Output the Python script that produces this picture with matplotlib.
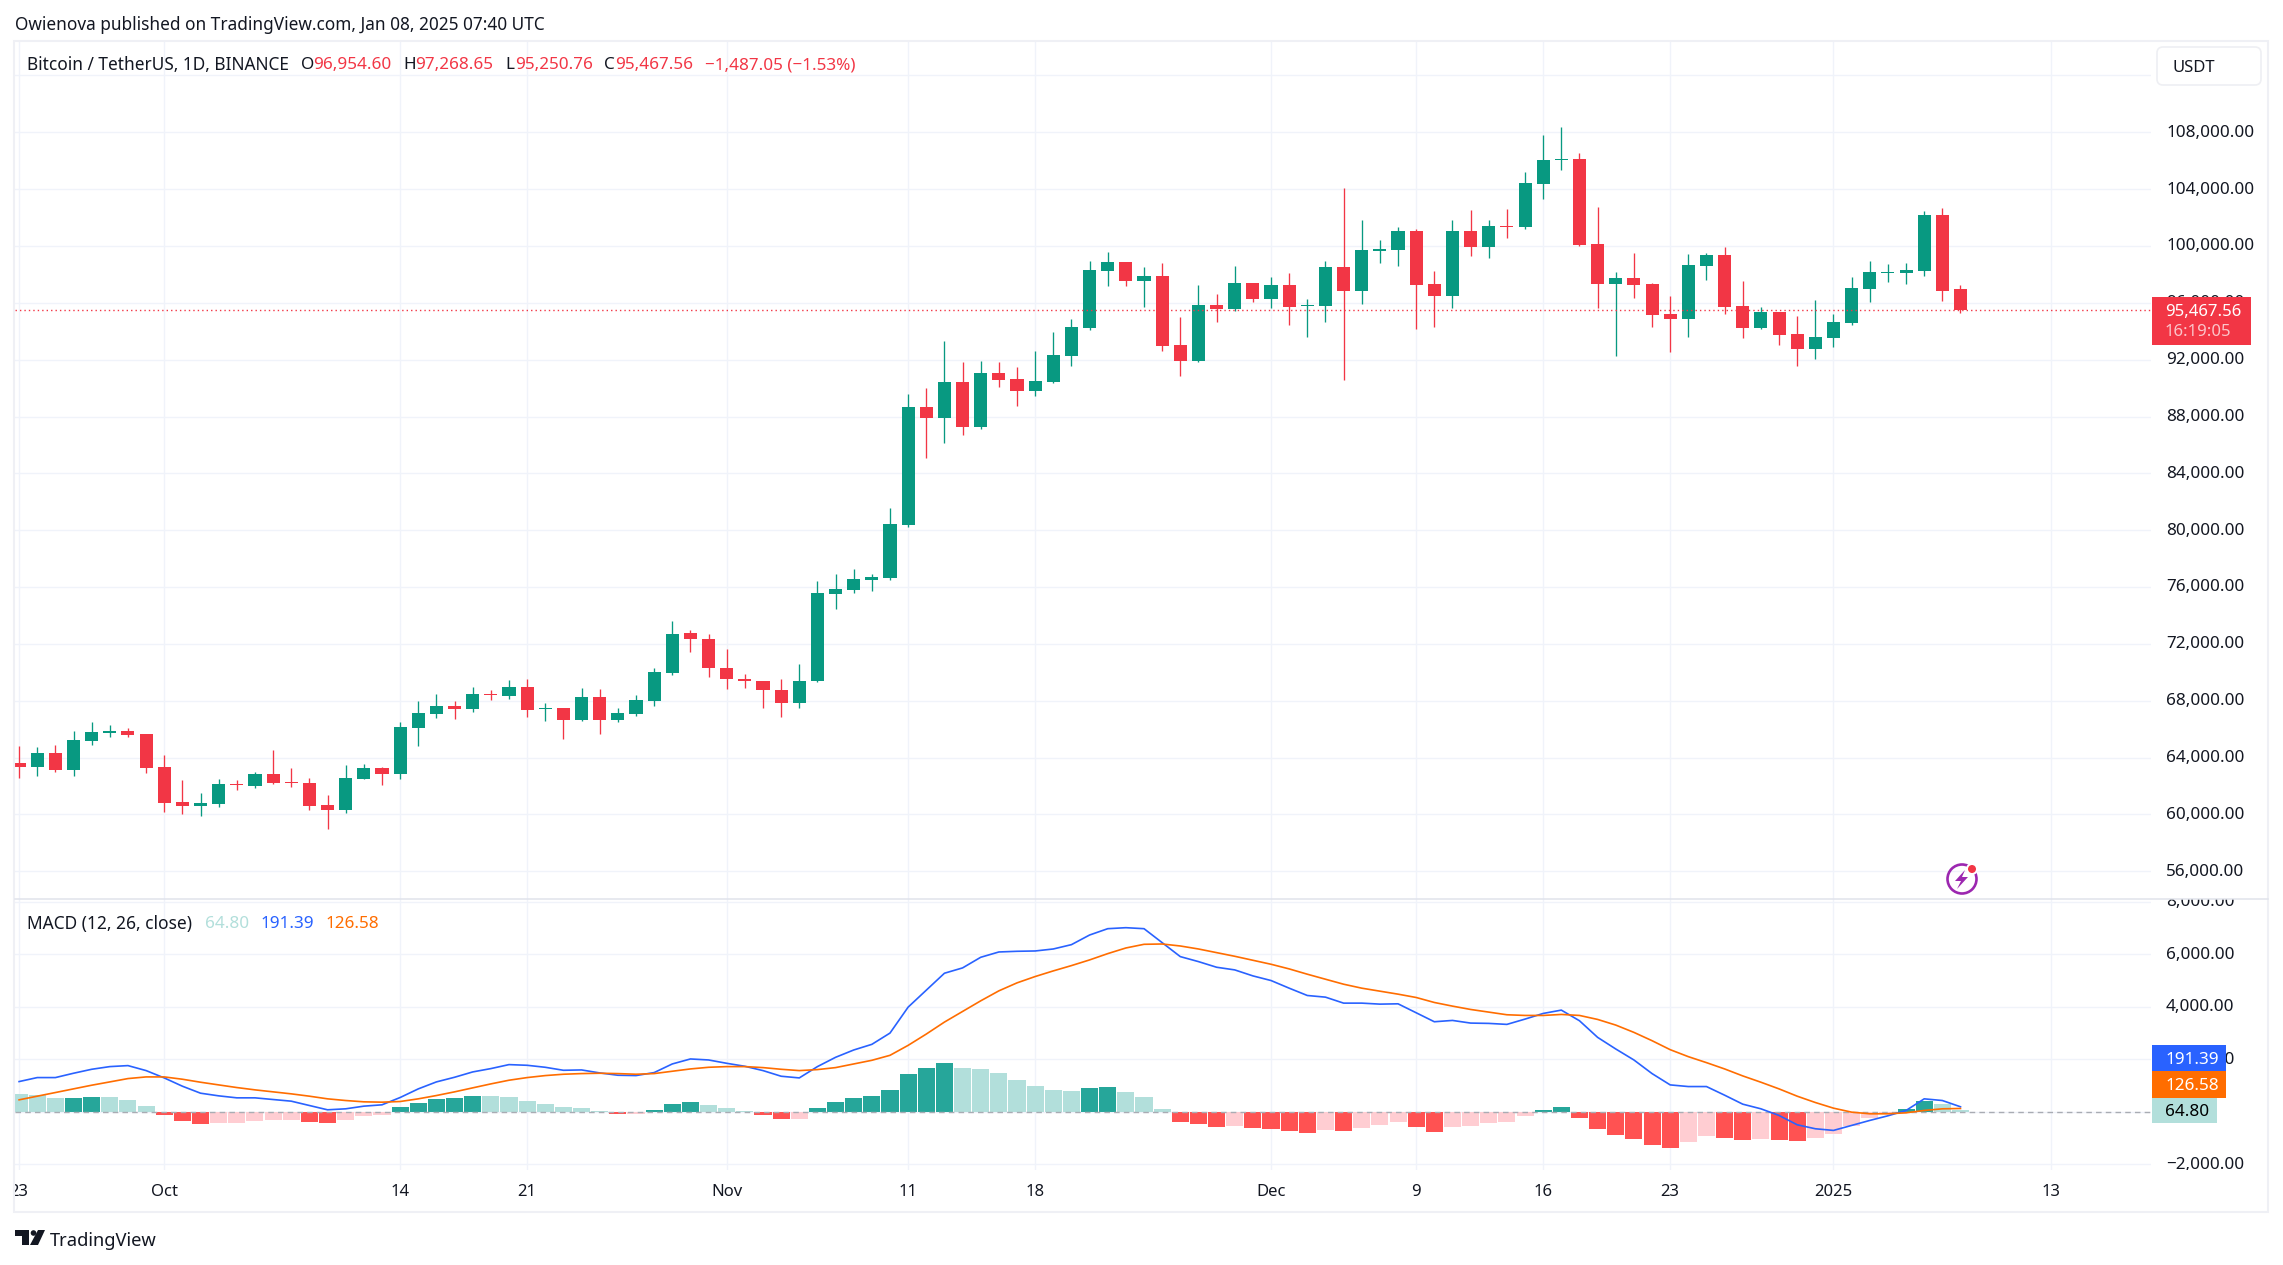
import numpy as np
import matplotlib
matplotlib.use("Agg")
import matplotlib.pyplot as plt
from matplotlib.patches import Rectangle, FancyBboxPatch, Polygon, Circle
from matplotlib.transforms import Bbox, TransformedBbox, ScaledTranslation

opens = [63600,63320,64300,63110,65150,65710,65850,65640,63320,60870,60590,60720,62130,61990,62830,62270,62200,60660,60300,62480,
         63250,62830,66060,67040,67600,67390,68440,68300,69000,67390,67460,66620,68230,66620,67040,67950,69920,72740,72340,70290,
         69500,69370,68770,67850,69370,75530,75810,76520,76650,80370,88650,87880,90410,87250,91040,90620,89780,90410,92230,94200,
         98270,98900,97570,97920,93010,91880,95880,95600,97430,96300,97220,95810,95810,98550,96860,99670,99740,101080,97290,96510,
         101080,99950,101430,101360,104370,106060,106130,100160,97360,97780,97290,95180,94830,98620,99390,95810,94200,95320,93780,92730,
         93500,94550,96940,98130,98130,98270,102200,96954.60]
highs = [64800,64720,64860,65850,66480,66270,66060,65640,64160,62410,61500,62480,62410,62970,64520,63250,62550,61360,63460,63530,
         63320,66480,67950,68440,67950,69000,68720,69430,69500,67810,67460,68860,68800,67460,68370,70270,73600,72950,72700,71630,
         69910,69390,69500,70580,76440,76930,77290,76930,81570,89570,89990,93280,91810,91880,91810,91460,92580,93920,94830,98970,
         99600,98900,98550,98830,94970,97220,96590,98620,97430,97850,98130,96300,98970,104090,101850,100440,101360,101220,98270,101850,
         102550,101850,102620,105200,107780,108350,106520,102760,98200,99530,97430,96510,99460,99530,99950,97570,95740,95320,95040,96230,
         95180,97850,98970,98760,98830,102480,102690,97268.65]
lows = [62570,62690,62970,62690,64860,65430,65430,62900,60160,60020,59880,60510,61710,61850,62130,61920,60300,58970,60090,62480,
        62060,62480,64800,66760,66690,67180,68020,68090,66830,66550,65290,66550,65640,66480,66900,67600,69780,71440,69690,68820,
        68880,67480,66830,67480,69300,74420,75600,75740,76520,80230,85070,86130,86690,87110,90060,88720,89430,90340,91530,94060,
        97150,97150,95740,92590,90830,91810,94620,95390,96090,95670,94410,93570,94620,90550,95950,98830,98620,94130,94270,95670,
        99320,99180,100580,101220,103320,105320,100020,95670,92230,96370,94270,92510,93570,97640,95180,93500,94130,93010,91530,92020,
        92870,94410,96090,97500,97290,97920,96160,95250.76]
closes = [63320,64300,63110,65220,65780,65850,65570,63250,60800,60590,60800,62130,62060,62830,62200,62200,60590,60300,62550,63250,
          62830,66130,67110,67600,67390,68440,68370,69000,67320,67460,66620,68230,66620,67110,68020,69990,72700,72340,70290,69500,
          69370,68770,67850,69370,75600,75880,76590,76720,80440,88650,87880,90410,87250,91040,90550,89780,90480,92300,94270,98340,
          98900,97570,97920,92940,91880,95880,95600,97430,96300,97220,95740,95880,98550,96860,99740,99810,101080,97220,96510,101080,
          99950,101430,101360,104440,106060,106130,100090,97360,97780,97220,95110,94830,98690,99390,95740,94200,95320,93710,92730,93570,
          94620,97010,98200,98200,98340,102200,96860,95467.56]

hist = [696,658,540,544,548,546,468,240,-139,-367,-481,-443,-440,-367,-329,-325,-405,-443,-329,-177,
        -139,165,354,506,544,620,590,582,430,316,165,127,13,-101,-98,50,316,392,278,127,
        13,-139,-291,-288,127,392,544,620,848,1456,1684,1874,1650,1646,1494,1228,1000,848,810,924,
        962,772,582,89,-405,-481,-595,-557,-633,-640,-747,-823,-709,-747,-633,-519,-405,-595,-785,-595,
        -557,-443,-405,-177,50,165,-253,-671,-899,-1051,-1279,-1393,-1165,-937,-1013,-1089,-1051,-1089,-1095,-1013,
        -861,-557,-253,-100,89,430,279,64.80]
macd = [1152,1304,1304,1469,1620,1722,1760,1570,1291,975,709,608,532,532,468,405,240,76,114,215,
        266,544,873,1139,1316,1519,1646,1798,1772,1696,1582,1595,1481,1393,1380,1494,1823,2013,1975,1848,
        1734,1570,1355,1291,1722,2076,2355,2570,3000,3988,4634,5279,5482,5887,6089,6115,6127,6203,6368,6735,
        6976,7014,6976,6444,5912,5722,5507,5406,5178,5001,4710,4431,4368,4140,4140,4102,4114,3773,3431,3481,
        3380,3368,3330,3532,3747,3874,3469,2836,2393,1975,1456,1025,962,962,633,291,114,-139,-494,-646,
        -709,-519,-329,-152,51,494,430,191.39]
signal = [456,595,734,874,1013,1139,1266,1329,1329,1241,1127,1025,924,836,760,684,595,494,430,380,
          367,392,494,620,760,912,1063,1203,1304,1380,1431,1456,1469,1456,1431,1456,1545,1633,1696,1722,
          1722,1684,1620,1570,1608,1684,1823,1962,2152,2532,2962,3418,3823,4228,4608,4912,5153,5368,5570,5786,
          6026,6241,6381,6393,6317,6203,6064,5925,5773,5621,5444,5242,5051,4861,4710,4596,4482,4355,4165,4026,
          3899,3798,3697,3671,3671,3709,3671,3519,3304,3026,2709,2367,2101,1873,1633,1367,1127,873,595,354,
          139,-13,-76,-76,-38,51,114,126.58]

# candle index of each date label, Sep 23 is 0
time_ticks = [0, 8, 21, 28, 39, 49, 56, 69, 77, 84, 91, 100, 112]
time_labels = ["23", "Oct", "14", "21", "Nov", "11", "18", "Dec", "9", "16", "23", "2025", "13"]
price_ticks = list(range(56000, 116000, 4000))
macd_ticks = [-2000, 0, 2000, 4000, 6000, 8000]
last_price = 95467.56

GREEN = "#089981"
RED = "#F23645"
GRID = "#f0f3fa"
TXT = "#131722"
FONT = "Noto Sans"

plt.rcParams["font.family"] = [FONT, "DejaVu Sans"]

W, H = 2283, 1265
fig = plt.figure(figsize=(W / 100, H / 100), dpi=100)


def pane(x0, y0, x1, y1):
    return fig.add_axes([x0 / W, 1 - y1 / H, (x1 - x0) / W, (y1 - y0) / H])


ax = pane(15, 42, 2151, 899)
ax2 = pane(15, 899, 2151, 1170)
ax3 = pane(15, 1170, 2151, 1212)

x = np.arange(len(closes))
o, h, l, c = map(np.array, (opens, highs, lows, closes))
up = c >= o
cols = np.where(up, GREEN, RED)

ax.vlines(x, l, h, colors=cols, lw=0.95, zorder=3)
ax.bar(x, np.abs(c - o), bottom=np.minimum(o, c), width=0.72, color=cols, linewidth=0, zorder=4)
ax.axhline(last_price, color=RED, lw=1.0, ls=(0, (1, 2.2)), zorder=5)
ax.set_ylim(54046, 114355)
ax.set_yticks(price_ticks)
ax.set_yticklabels([f"{p:,}.00" if p < 110000 else "" for p in price_ticks])

hh = np.array(hist)
prev = np.r_[hh[0], hh[:-1]]
strong = np.where(hh >= 0, hh > prev, hh < prev)
bar_cols = []
for v, s in zip(hh, strong):
    if v >= 0:
        bar_cols.append("#26a69a" if s else "#b2dfdb")
    else:
        bar_cols.append("#ff5252" if s else "#ffcdd2")

ax2.bar(x, hh, width=0.94, color=bar_cols, linewidth=0, zorder=3)
ax2.axhline(0, color="#a9acb3", lw=1.0, ls=(0, (4, 3)), zorder=4)
ax2.plot(x, macd, color="#2962ff", lw=1.2, zorder=5)
ax2.plot(x, signal, color="#ff6d00", lw=1.2, zorder=6)
ax2.set_ylim(-2217, 8107)
ax2.set_yticks(macd_ticks)
# 0.00 sits fully behind the histogram tag
ax2.set_yticklabels([f"{m:,}.00".replace("-", "\u2212") if m != 0 else "" for m in macd_ticks])

for a in (ax, ax2):
    a.set_xlim(-0.226, 117.5)
    a.set_xticks(time_ticks)
    a.set_xticklabels([])
    a.yaxis.tick_right()
    a.tick_params(axis="both", length=0)
    a.tick_params(axis="y", pad=10.8, labelsize=12.3, labelcolor=TXT)
    a.grid(True, color=GRID, lw=1.0, zorder=0)
    a.set_axisbelow(True)
    for s in a.spines.values():
        s.set_visible(False)
    # nudge labels up a little
    for t in a.get_yticklabels():
        t.set_transform(t.get_transform() + ScaledTranslation(0, 1.6 / 100, fig.dpi_scale_trans))

# the 8,000.00 label is cut off by the pane edge
clip = TransformedBbox(Bbox([[0, 0], [1.1, 1]]), ax2.transAxes)
for t in ax2.get_yticklabels():
    t.set_clip_box(clip)
    t.set_clip_on(True)

ax3.set_xlim(ax.get_xlim())
ax3.set_ylim(0, 1)
ax3.axis("off")
for pos, lab in zip(time_ticks, time_labels):
    ax3.text(pos, 0.47, lab, ha="center", va="center", fontsize=12, color=TXT,
             fontweight="bold" if lab == "2025" else "normal", clip_on=True)

# everything below is placed in image pixels
ov = fig.add_axes([0, 0, 1, 1])
ov.set_xlim(0, W)
ov.set_ylim(H, 0)
ov.axis("off")
ov.patch.set_alpha(0)


def label(px, py, s, color=TXT, size=12.3, **kw):
    ov.text(px, py, s, color=color, fontsize=size, va="center", ha="left", **kw)


ov.add_patch(Rectangle((14, 41), 2254, 1171, fill=False, ec="#eff0f5", lw=1.5))
ov.plot([15, 2268], [899, 899], color="#e0e3eb", lw=1.1)

label(15, 24.5, "Owienova published on TradingView.com, Jan 08, 2025 07:40 UTC", size=12.4)

label(27, 65, "Bitcoin / TetherUS, 1D, BINANCE", size=12.45)
for px, s in [(301, "O"), (403, "H"), (505, "L"), (604, "C")]:
    label(px, 65, s)
for px, s in [(313, "96,954.60"), (415, "97,268.65"), (515, "95,250.76"), (615, "95,467.56"),
              (705, "\u22121,487.05 (\u22121.53%)")]:
    label(px, 65, s, color=RED)

label(27, 923.5, "MACD (12, 26, close)", size=12.5)
label(205, 923.5, "64.80", color="#b2dfdb")
label(260, 923.5, "191.39", color="#2962ff")
label(325, 923.5, "126.58", color="#ff6d00")

# currency button
ov.add_patch(FancyBboxPatch((2160, 50), 98, 32, boxstyle="round,pad=3,rounding_size=6",
                            fc="white", ec="#eeeff3", lw=1.2))
label(2172, 67.5, "USDT", size=12)

# last price tag
ov.add_patch(Rectangle((2152, 297), 99, 48, fc=RED, ec="none"))
label(2165, 311.5, "95,467.56", color="white", size=12, fontweight="bold")
label(2165, 332.5, "16:19:05", color="#fbc4c9", size=12, fontweight="bold")

# MACD tags
ov.add_patch(Rectangle((2152, 1045), 74, 26, fc="#2962ff", ec="none"))
label(2165, 1059.5, "191.39", color="white")
ov.add_patch(Rectangle((2152, 1071), 74, 27, fc="#ff6d00", ec="none"))
label(2165, 1085.5, "126.58", color="white")
ov.add_patch(Rectangle((2152, 1098), 65, 25, fc="#b2dfdb", ec="none"))
label(2165, 1111.5, "64.80", color="black")

# lightning badge
ov.add_patch(Circle((1962, 879), 14.5, fill=False, ec="#9c27b0", lw=1.9))
ov.add_patch(Polygon([(1965, 870), (1955, 881), (1961, 881), (1957, 889), (1968, 877), (1962, 877)],
                     closed=True, fc="#9c27b0", ec="none"))
ov.add_patch(Circle((1972, 869), 6, fc="white", ec="none"))
ov.add_patch(Circle((1972, 869), 4, fc=RED, ec="none"))

# TradingView logo
ov.add_patch(Polygon([(15, 1230), (29, 1230), (29, 1245), (22, 1245), (22, 1236), (15, 1236)],
                     closed=True, fc=TXT, ec="none"))
ov.add_patch(Circle((33.5, 1233), 2.8, fc=TXT, ec="none"))
ov.add_patch(Polygon([(38, 1230), (45, 1230), (38, 1245), (30, 1245)], closed=True, fc=TXT, ec="none"))
label(50, 1240.5, "TradingView", size=13.2)

fig.savefig("out.png", dpi=100)
